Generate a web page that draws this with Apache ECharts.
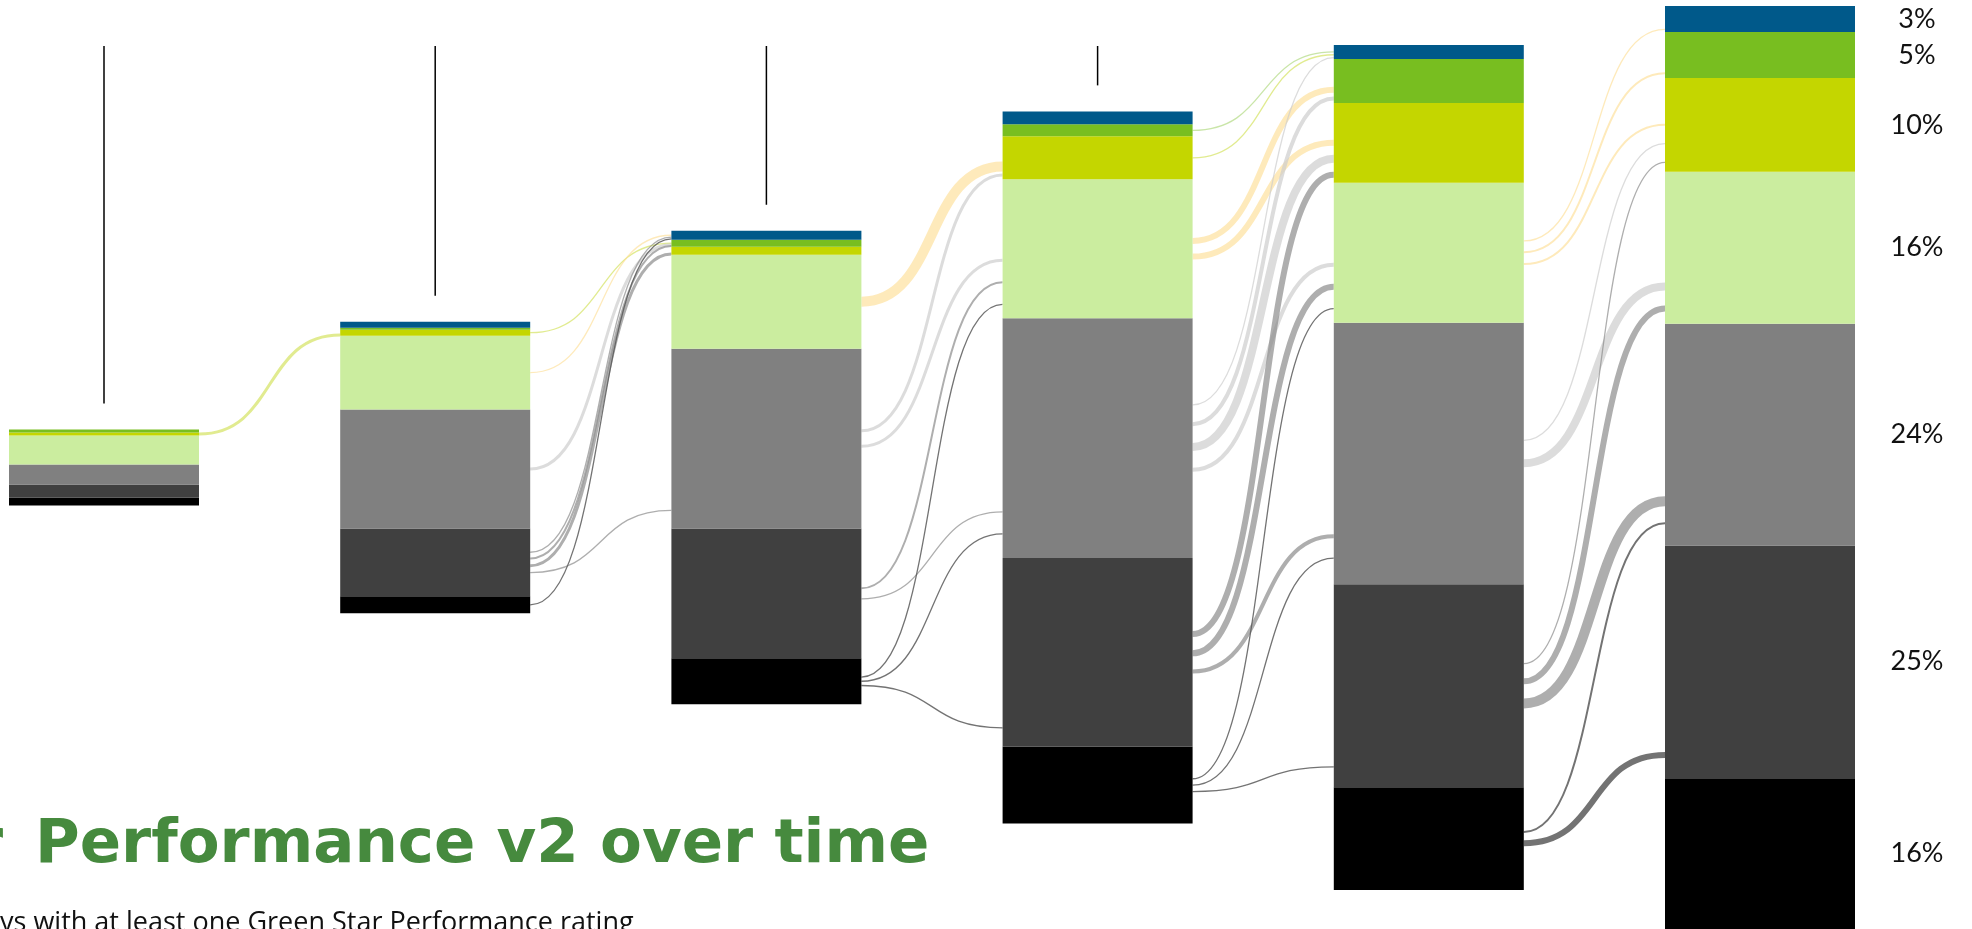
<!DOCTYPE html>
<html>
<head>
<meta charset="utf-8">
<script src="https://cdn.jsdelivr.net/npm/echarts@6/dist/echarts.min.js"></script>
<style>
  html, body { margin: 0; padding: 0; background: #fff; }
  #chart { width: 1972px; height: 929px; }
</style>
</head>
<body>
<div id="chart"></div>
<script>
const years = ['2018', '2019', '2020', '2021', '2022', '2023'];
const ratings = ['6 Star', '5 Star', '4 Star', '3 Star', '2 Star', '1 Star', '0 Star'];

// buildings per rating, one value per year
const star6 = [0, 6, 9, 13, 14, 26];
const star5 = [3, 2, 7, 12, 44, 46];
const star4 = [3, 6, 8, 43, 80, 94];
const star3 = [29, 74, 94, 139, 140, 152];
const star2 = [20, 119, 180, 240, 262, 222];
const star1 = [13, 68, 130, 189, 203, 233];
const star0 = [8, 17, 46, 77, 103, 151];

// rating moves between a year and the next: [year index, from, to, buildings]
const moves = [
  [0, '4 Star', '4 Star', 3],
  [1, '4 Star', '5 Star', 1],
  [1, '3 Star', '6 Star', 1],
  [1, '2 Star', '5 Star', 3],
  [1, '1 Star', '6 Star', 1],
  [1, '1 Star', '5 Star', 2],
  [1, '1 Star', '4 Star', 3],
  [1, '1 Star', '2 Star', 1],
  [1, '0 Star', '6 Star', 1],
  [2, '3 Star', '4 Star', 10],
  [2, '2 Star', '4 Star', 3],
  [2, '2 Star', '3 Star', 3],
  [2, '1 Star', '3 Star', 2],
  [2, '1 Star', '2 Star', 1],
  [2, '0 Star', '3 Star', 1],
  [2, '0 Star', '2 Star', 1],
  [2, '0 Star', '1 Star', 1],
  [3, '5 Star', '6 Star', 1],
  [3, '4 Star', '6 Star', 1],
  [3, '3 Star', '5 Star', 6],
  [3, '3 Star', '4 Star', 6],
  [3, '2 Star', '6 Star', 1],
  [3, '2 Star', '5 Star', 4],
  [3, '2 Star', '4 Star', 8],
  [3, '2 Star', '3 Star', 4],
  [3, '1 Star', '4 Star', 6],
  [3, '1 Star', '3 Star', 6],
  [3, '1 Star', '2 Star', 4],
  [3, '0 Star', '3 Star', 1],
  [3, '0 Star', '2 Star', 1],
  [3, '0 Star', '1 Star', 1],
  [4, '3 Star', '6 Star', 1],
  [4, '3 Star', '5 Star', 2],
  [4, '3 Star', '4 Star', 2],
  [4, '2 Star', '4 Star', 1],
  [4, '2 Star', '3 Star', 8],
  [4, '1 Star', '4 Star', 1],
  [4, '1 Star', '3 Star', 6],
  [4, '1 Star', '2 Star', 10],
  [4, '0 Star', '2 Star', 2],
  [4, '0 Star', '1 Star', 6]
];

const colors = ['#00598a', '#78be20', '#c4d600', '#cbed9f', '#808080', '#404040', '#000000'];
const flowColors = [
  'rgba(120,170,200,0.6)',
  'rgba(165,212,110,0.6)',
  'rgba(205,222,70,0.6)',
  'rgba(253,222,150,0.65)',
  'rgba(205,205,205,0.7)',
  'rgba(140,140,140,0.7)',
  'rgba(90,90,90,0.85)'
];
const barWidth = 190;

const byRating = [star6, star5, star4, star3, star2, star1, star0];
const totals = years.map((_, i) => byRating.reduce((s, a) => s + a[i], 0));
const maxTotal = Math.max(...totals);
const base = totals.map(t => (maxTotal - t) / 2);

// value range of a rating segment in a year's centred stack
function bounds(i, r) {
  let lo = base[i];
  for (let k = byRating.length - 1; k > r; k--) lo += byRating[k][i];
  return [lo, lo + byRating[r][i]];
}

const flows = moves.map(m => ({
  gap: m[0], from: ratings.indexOf(m[1]), to: ratings.indexOf(m[2]), w: m[3]
}));

// sources: around the middle of the segment, higher targets on top
const srcGroups = {};
flows.forEach(f => {
  const k = f.gap + '_' + f.from;
  (srcGroups[k] = srcGroups[k] || []).push(f);
});
Object.values(srcGroups).forEach(g => {
  g.sort((a, b) => a.to - b.to);
  const [lo, hi] = bounds(g[0].gap, g[0].from);
  const pad = 0.07 * (hi - lo);
  const span = g.reduce((s, f) => s + f.w, 0) + pad * (g.length - 1);
  let y = (lo + hi) / 2 + span / 2;
  g.forEach(f => { f.y1 = y - f.w / 2; y -= f.w + pad; });
});

// targets: spread in the lower part of the segment, higher sources on top
const dstGroups = {};
flows.forEach(f => {
  const k = f.gap + '_' + f.to;
  (dstGroups[k] = dstGroups[k] || []).push(f);
});
Object.values(dstGroups).forEach(g => {
  g.sort((a, b) => a.from - b.from);
  const [lo, hi] = bounds(g[0].gap + 1, g[0].to);
  const h = hi - lo;
  const step = Math.min(0.2 * h, 22);
  g.forEach((f, k) => { f.y2 = Math.min(hi, lo + 0.1 * h + (g.length - 1 - k) * step); });
});

const chart = echarts.init(document.getElementById('chart'));

const barSeries = [{
  name: 'base',
  type: 'bar',
  stack: 'all',
  barWidth: barWidth,
  data: base,
  itemStyle: { color: 'transparent' },
  silent: true
}];
for (let r = byRating.length - 1; r >= 0; r--) {
  barSeries.push({
    name: ratings[r],
    type: 'bar',
    stack: 'all',
    barWidth: barWidth,
    data: byRating[r],
    itemStyle: { color: colors[r] },
    z: 3,
    label: {
      show: true,
      position: [252, '50%'],
      align: 'center',
      verticalAlign: 'middle',
      fontFamily: 'Lato',
      fontSize: 27,
      color: '#111',
      formatter: p => p.dataIndex === years.length - 1
        ? Math.round(p.value / totals[years.length - 1] * 100) + '%' : ''
    }
  });
}

const option = {
  animation: false,
  backgroundColor: '#fff',
  grid: { left: 104, top: 6, width: 1656, height: maxTotal },
  xAxis: { type: 'category', data: years, boundaryGap: false, show: false },
  yAxis: { type: 'value', min: 0, max: maxTotal, show: false },
  series: [
    ...barSeries,
    {
      name: 'moves',
      type: 'custom',
      z: 1,
      silent: true,
      data: flows.map(f => [f.gap, f.y1]),
      encode: { x: 0, y: 1 },
      renderItem: function (params, api) {
        const f = flows[params.dataIndex];
        const p1 = api.coord([f.gap, f.y1]);
        const p2 = api.coord([f.gap + 1, f.y2]);
        const x1 = p1[0] + barWidth / 2;
        const x2 = p2[0] - barWidth / 2;
        const dx = x2 - x1;
        return {
          type: 'bezierCurve',
          shape: {
            x1: x1, y1: p1[1], x2: x2, y2: p2[1],
            cpx1: x1 + dx * 0.55, cpy1: p1[1],
            cpx2: x2 - dx * 0.55, cpy2: p2[1]
          },
          style: {
            fill: null,
            stroke: flowColors[f.from],
            lineWidth: Math.max(api.size([0, f.w])[1], 1.3)
          }
        };
      }
    },
    {
      name: 'leaders',
      type: 'custom',
      silent: true,
      data: years.map((_, i) => [i, base[i] + totals[i]]),
      encode: { x: 0, y: 1 },
      renderItem: function (params, api) {
        const p = api.coord([api.value(0), api.value(1)]);
        const yEnd = p[1] - 26;
        if (yEnd - 46 < 30) return null;
        return {
          type: 'line',
          shape: { x1: p[0], y1: 46, x2: p[0], y2: yEnd },
          style: { stroke: '#000', lineWidth: 1.5 }
        };
      }
    }
  ],
  graphic: [
    {
      type: 'text', x: 3, y: 846,
      style: {
        text: 'Green Star', align: 'right', verticalAlign: 'middle',
        font: 'bold 61px "DejaVu Sans"', fill: '#468a3e'
      }
    },
    {
      type: 'text', x: 35, y: 846,
      style: {
        text: 'Performance v2 over time', align: 'left', verticalAlign: 'middle',
        font: 'bold 61px "DejaVu Sans"', fill: '#468a3e'
      }
    },
    {
      type: 'text', x: 0, y: 923,
      style: {
        text: 'ys with at least one Green Star Performance rating', align: 'left',
        verticalAlign: 'middle', font: '27px "Open Sans"', fill: '#111'
      }
    }
  ]
};

chart.setOption(option);
window.addEventListener('resize', () => chart.resize());
</script>
</body>
</html>
